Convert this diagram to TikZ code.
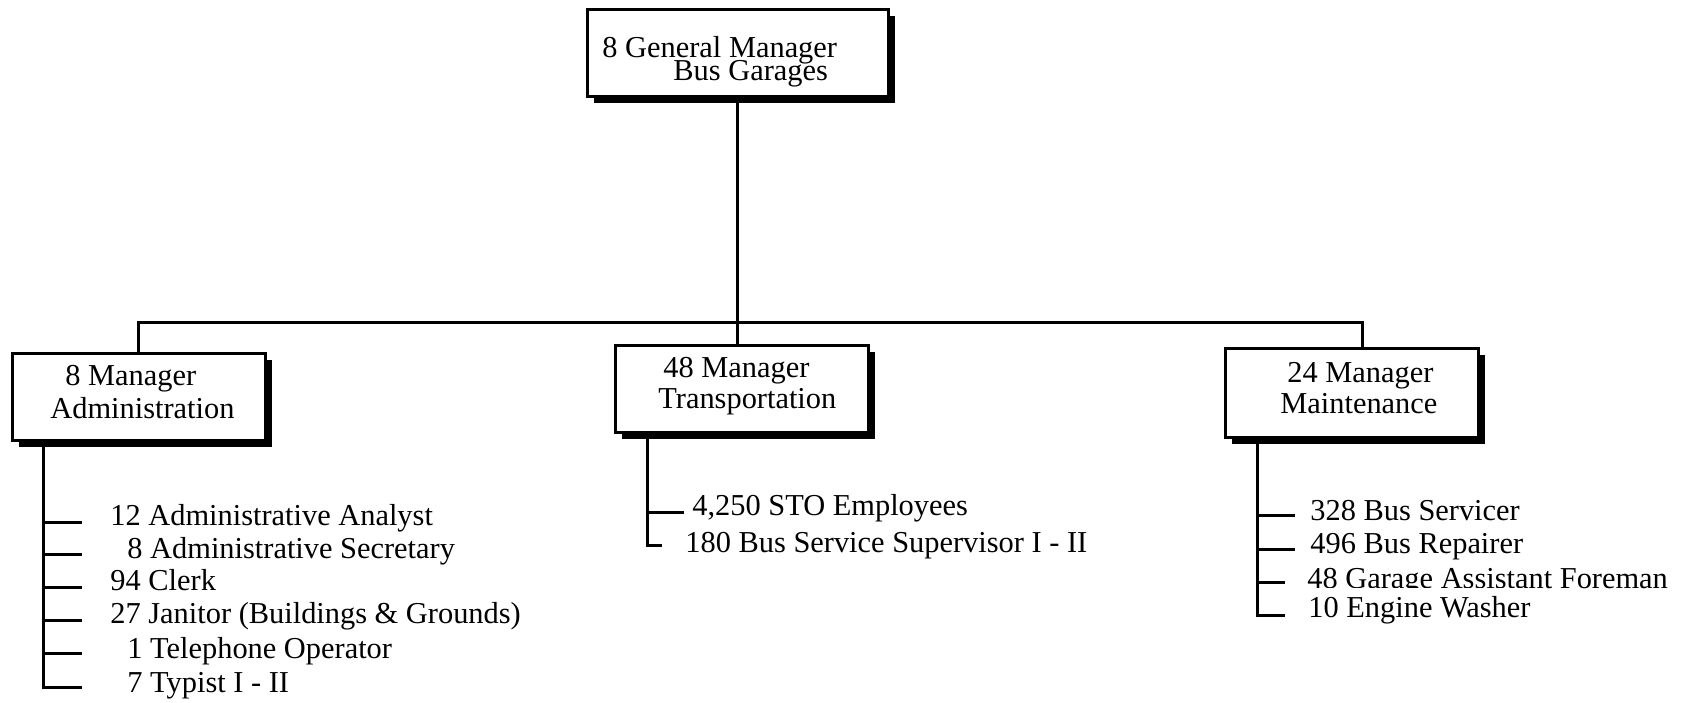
\documentclass[tikz,border=0pt]{standalone}
\usepackage{fontspec}
\setmainfont{Liberation Serif}
\usetikzlibrary{shadows}
\begin{document}
\begin{tikzpicture}[x=0.5pt,y=-0.5pt,
  box/.style={draw, line width=1.5pt, fill=white, inner sep=0pt,
    drop shadow={shadow xshift=3.6pt, shadow yshift=-3.6pt, opacity=1, fill=black}},
  lbl/.style={anchor=base west, inner sep=0pt, font=\fontsize{15.2}{18}\selectfont},
  conn/.style={line width=1.5pt, line cap=rect, line join=miter}]
\useasboundingbox (0,0) rectangle (1695,702);

% boxes
\node[box, minimum width=150.5pt, minimum height=43.5pt] (top) at (737.5,52.5) {};
\node[box, minimum width=126.5pt, minimum height=43.5pt] (admin) at (138.5,396.5) {};
\node[box, minimum width=126.5pt, minimum height=43.5pt] (trans) at (741.5,388.5) {};
\node[box, minimum width=126.5pt, minimum height=44.5pt] (maint) at (1351.5,392.5) {};

% box texts
\node[lbl] (topA) at (602,57) {8 General Manager};
\node[lbl] (topB) at (673,80) {Bus Garages};
\node[lbl] (adA) at (65,385) {8 Manager};
\node[lbl] (adB) at (50,418) {Administration};
\node[lbl] (trA) at (663,377) {48 Manager};
\node[lbl] (trB) at (658,408) {Transportation};
\node[lbl] (maA) at (1287,382) {24 Manager};
\node[lbl] (maB) at (1280,413) {Maintenance};

% top connectors
\coordinate (jL) at (138.5,322);
\coordinate (jR) at (1362,322);
\draw[conn] (top.south) -- (top.south |- trans.north);
\draw[conn] (jL) -- (jR);
\draw[conn] (jL) -- (admin.north);
\draw[conn] (jR) -- (jR |- maint.north);

% administration list
\coordinate (aT) at (43,442);
\coordinate (a1) at (80,522);
\coordinate (a2) at (80,554);
\coordinate (a3) at (80,587);
\coordinate (a4) at (80,620);
\coordinate (a5) at (80,653);
\coordinate (a6) at (80,687);
\draw[conn] (aT) |- (a6);
\foreach \i in {1,...,5} \draw[conn] (aT |- a\i) -- (a\i);
\node[lbl] (l1) at (110,525) {12 Administrative Analyst};
\node[lbl] (l2) at (127,558) {8 Administrative Secretary};
\node[lbl] (l3) at (110,590) {94 Clerk};
\node[lbl] (l4) at (110,623) {27 Janitor (Buildings \& Grounds)};
\node[lbl] (l5) at (127,658) {1 Telephone Operator};
\node[lbl] (l6) at (127,692) {7 Typist I - II};

% transportation list
\coordinate (tT) at (647,434);
\coordinate (t1) at (682,512);
\coordinate (t2) at (660,545);
\draw[conn] (tT) |- (t2);
\draw[conn] (tT |- t1) -- (t1);
\node[lbl] (m1) at (692,515) {4,250 STO Employees};
\node[lbl] (m2) at (685,552) {180 Bus Service Supervisor I - II};

% maintenance list
\coordinate (mT) at (1257,439);
\coordinate (k1) at (1293,515);
\coordinate (k2) at (1293,549);
\coordinate (k3) at (1283,582);
\coordinate (k4) at (1283,615);
\draw[conn] (mT) |- (k4);
\foreach \i in {1,2,3} \draw[conn] (mT |- k\i) -- (k\i);
\node[lbl] (n1) at (1310,520) {328 Bus Servicer};
\node[lbl] (n2) at (1310,553) {496 Bus Repairer};
\node[lbl] (n3) at (1307,588) {48 Garage Assistant Foreman};
\node[lbl, fill=white, inner ysep=3.8pt] (n4) at (1308,617) {10 Engine Washer};
\end{tikzpicture}
\end{document}
